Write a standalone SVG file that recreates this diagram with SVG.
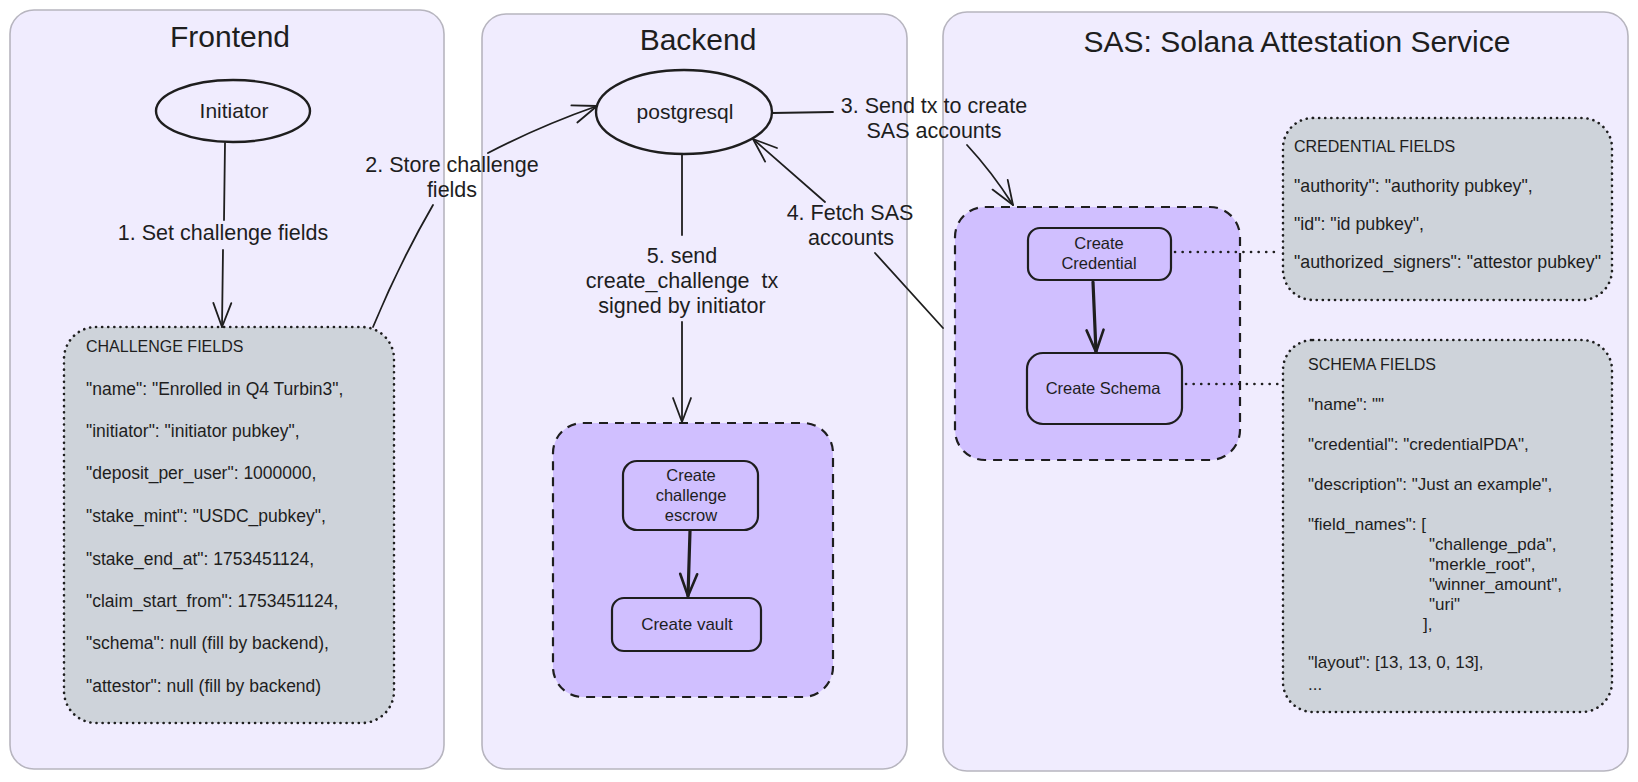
<svg xmlns="http://www.w3.org/2000/svg" width="1638" height="782" viewBox="0 0 1638 782">
<defs>
<style>
text{font-family:"Liberation Sans",Arial,sans-serif;fill:#1e1e1e}
.panel{fill:#f0ecfe;stroke:#b7b5bf;stroke-width:1.6}
.title{font-size:30px;text-anchor:middle}
.group{fill:#d0bfff;stroke:#1e1e1e;stroke-width:2.2;stroke-dasharray:9 7}
.fields{fill:#ced3da;stroke:#1e1e1e;stroke-width:2.6;stroke-dasharray:0.1 6;stroke-linecap:round}
.node{fill:none;stroke:#1e1e1e;stroke-width:2.4}
.box{fill:#d0bfff;stroke:#1e1e1e;stroke-width:2.2}
.ntext{font-size:21px;text-anchor:middle}
.btext{font-size:16.5px;text-anchor:middle}
.ftext{font-size:17.5px}
.ctext{font-size:17px}
.cred{font-size:17.8px}
.elabel{font-size:21.5px;text-anchor:middle}
.edge{fill:none;stroke:#1e1e1e;stroke-width:1.8;stroke-linecap:round}
.thick{fill:none;stroke:#1e1e1e;stroke-width:3.2;stroke-linecap:round}
.dot{fill:none;stroke:#1e1e1e;stroke-width:2.6;stroke-dasharray:0.1 7.5;stroke-linecap:round}
</style>
<marker id="ah" markerUnits="userSpaceOnUse" markerWidth="40" markerHeight="40" viewBox="-30 -20 40 40" refX="0" refY="0" orient="auto">
<path d="M -24 -9 L 0 0 L -24 9" fill="none" stroke="#1e1e1e" stroke-width="1.8" stroke-linecap="round" stroke-linejoin="round"/>
</marker>
<marker id="aht" markerUnits="userSpaceOnUse" markerWidth="40" markerHeight="40" viewBox="-30 -20 40 40" refX="0" refY="0" orient="auto">
<path d="M -22 -8.5 L 0 0 L -22 8.5" fill="none" stroke="#1e1e1e" stroke-width="2.6" stroke-linecap="round" stroke-linejoin="round"/>
</marker>
</defs>
<rect width="1638" height="782" fill="#ffffff"/>

<g id="panel-frontend">
<rect class="panel" x="10" y="10" width="434" height="759" rx="24"/>
<text class="title" x="230" y="47">Frontend</text>
</g>
<g id="panel-backend">
<rect class="panel" x="482" y="14" width="425" height="755" rx="24"/>
<text class="title" x="698" y="50">Backend</text>
</g>
<g id="panel-sas">
<rect class="panel" x="943" y="12" width="685" height="759" rx="24"/>
<text class="title" x="1297" y="52">SAS: Solana Attestation Service</text>
</g>

<g id="group-challenge">
<rect class="group" x="553" y="423" width="280" height="274" rx="30"/>
</g>
<g id="group-sas">
<rect class="group" x="955" y="207" width="285" height="253" rx="30"/>
</g>

<g id="challenge-fields">
<rect class="fields" x="64" y="327" width="330" height="396" rx="32"/>
<text class="ftext" x="86" y="352" style="font-size:16px">CHALLENGE FIELDS</text>
<text class="ftext" x="86" y="395">"name": "Enrolled in Q4 Turbin3",</text>
<text class="ftext" x="86" y="437">"initiator": "initiator pubkey",</text>
<text class="ftext" x="86" y="479">"deposit_per_user": 1000000,</text>
<text class="ftext" x="86" y="522">"stake_mint": "USDC_pubkey",</text>
<text class="ftext" x="86" y="565">"stake_end_at": 1753451124,</text>
<text class="ftext" x="86" y="607">"claim_start_from": 1753451124,</text>
<text class="ftext" x="86" y="649">"schema": null (fill by backend),</text>
<text class="ftext" x="86" y="692">"attestor": null (fill by backend)</text>
</g>

<g id="credential-fields">
<rect class="fields" x="1283" y="118" width="329" height="182" rx="30"/>
<text class="cred" x="1294" y="152" style="font-size:16px">CREDENTIAL FIELDS</text>
<text class="cred" x="1294" y="192">"authority": "authority pubkey",</text>
<text class="cred" x="1294" y="230">"id": "id pubkey",</text>
<text class="cred" x="1294" y="268">"authorized_signers": "attestor pubkey"</text>
</g>

<g id="schema-fields">
<rect class="fields" x="1283" y="340" width="329" height="372" rx="30"/>
<text class="ctext" x="1308" y="370" style="font-size:16px">SCHEMA FIELDS</text>
<text class="ctext" x="1308" y="410">"name": ""</text>
<text class="ctext" x="1308" y="450">"credential": "credentialPDA",</text>
<text class="ctext" x="1308" y="490">"description": "Just an example",</text>
<text class="ctext" x="1308" y="530">"field_names": [</text>
<text class="ctext" x="1429" y="550">"challenge_pda",</text>
<text class="ctext" x="1429" y="570">"merkle_root",</text>
<text class="ctext" x="1429" y="590">"winner_amount",</text>
<text class="ctext" x="1429" y="610">"uri"</text>
<text class="ctext" x="1423" y="630">],</text>
<text class="ctext" x="1308" y="668">"layout": [13, 13, 0, 13],</text>
<text class="ctext" x="1308" y="690">...</text>
</g>

<g id="node-initiator">
<ellipse class="node" cx="233" cy="111" rx="77" ry="31"/>
<text class="ntext" x="234" y="118">Initiator</text>
</g>
<g id="node-postgresql">
<ellipse class="node" cx="684" cy="112" rx="88" ry="42"/>
<text class="ntext" x="685" y="119">postgresql</text>
</g>
<g id="node-escrow">
<rect class="box" x="623" y="461" width="135" height="69" rx="14"/>
<text class="btext" x="691" y="481">Create</text>
<text class="btext" x="691" y="501">challenge</text>
<text class="btext" x="691" y="521">escrow</text>
</g>
<g id="node-vault">
<rect class="box" x="612" y="598" width="149" height="53" rx="12"/>
<text class="btext" x="687" y="630" style="font-size:17px">Create vault</text>
</g>
<g id="node-credential">
<rect class="box" x="1028" y="228" width="143" height="52" rx="12"/>
<text class="btext" x="1099" y="249">Create</text>
<text class="btext" x="1099" y="269">Credential</text>
</g>
<g id="node-schema">
<rect class="box" x="1027" y="353" width="155" height="71" rx="16"/>
<text class="btext" x="1103" y="394">Create Schema</text>
</g>

<g id="connectors">
<path class="edge" d="M 225 143 L 224 220"/>
<path class="edge" d="M 223 250 L 222 327" marker-end="url(#ah)"/>
<text class="elabel" x="223" y="240">1. Set challenge fields</text>

<path class="edge" d="M 373 327 Q 400 262 433 205"/>
<path class="edge" d="M 488 153 Q 540 126 597 106" marker-end="url(#ah)"/>
<text class="elabel" x="452" y="172">2. Store challenge</text>
<text class="elabel" x="452" y="197">fields</text>

<path class="edge" d="M 772 113 L 833 112"/>
<path class="edge" d="M 967 145 Q 992 172 1013 205" marker-end="url(#ah)"/>
<text class="elabel" x="934" y="113">3. Send tx to create</text>
<text class="elabel" x="934" y="138">SAS accounts</text>

<path class="edge" d="M 943 328 L 875 253"/>
<path class="edge" d="M 825 202 L 753 139" marker-end="url(#ah)"/>
<text class="elabel" x="850" y="220">4. Fetch SAS</text>
<text class="elabel" x="851" y="245">accounts</text>

<path class="edge" d="M 682 155 L 682 235"/>
<path class="edge" d="M 682 322 L 682 422" marker-end="url(#ah)"/>
<text class="elabel" x="682" y="263">5. send</text>
<text class="elabel" x="682" y="288" style="white-space:pre">create_challenge  tx</text>
<text class="elabel" x="682" y="313">signed by initiator</text>

<path class="thick" d="M 690 531 L 688 596" marker-end="url(#aht)"/>
<path class="thick" d="M 1093 282 L 1096 352" marker-end="url(#aht)"/>

<path class="dot" d="M 1175 252 L 1280 252"/>
<path class="dot" d="M 1186 384 L 1280 384"/>
</g>
</svg>
